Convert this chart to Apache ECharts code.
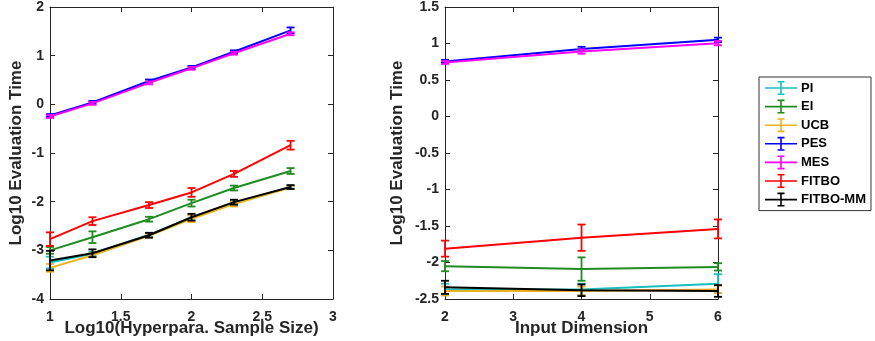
<!DOCTYPE html>
<html><head><meta charset="utf-8">
<script src="https://cdn.jsdelivr.net/npm/echarts@6/dist/echarts.min.js"></script>
<style>html,body{margin:0;padding:0;background:#fff}#c{width:875px;height:341px}</style>
</head><body><div id="c"></div>
<script>
const names = ['PI','EI','UCB','PES','MES','FITBO','FITBO-MM'];
const colors = ['#17BFBF','#1E8C1E','#EDB120','#0000FF','#FF00FF','#FF0000','#000000'];

const xLeft = [1, 1.3, 1.7, 2, 2.3, 2.7];
const leftMean = {
  'PI':       [-3.25, -3.07, -2.68, -2.33, -2.03, -1.70],
  'EI':       [-3.00, -2.73, -2.36, -2.03, -1.72, -1.37],
  'UCB':      [-3.36, -3.10, -2.70, -2.35, -2.05, -1.71],
  'PES':      [-0.23, 0.04, 0.48, 0.76, 1.08, 1.52],
  'MES':      [-0.25, 0.02, 0.44, 0.74, 1.05, 1.45],
  'FITBO':    [-2.77, -2.40, -2.07, -1.81, -1.43, -0.84],
  'FITBO-MM': [-3.21, -3.06, -2.69, -2.32, -2.01, -1.70]
};
const leftErr = {
  'PI':       [0.12, 0.04, 0.04, 0.05, 0.04, 0.03],
  'EI':       [0.07, 0.12, 0.05, 0.07, 0.05, 0.06],
  'UCB':      [0.08, 0.04, 0.04, 0.07, 0.05, 0.03],
  'PES':      [0.03, 0.03, 0.03, 0.03, 0.03, 0.06],
  'MES':      [0.03, 0.03, 0.03, 0.03, 0.03, 0.03],
  'FITBO':    [0.14, 0.08, 0.06, 0.09, 0.06, 0.09],
  'FITBO-MM': [0.20, 0.08, 0.05, 0.07, 0.05, 0.04]
};

const xRight = [2, 4, 6];
const rightMean = {
  'PI':       [-2.37, -2.37, -2.29],
  'EI':       [-2.05, -2.09, -2.06],
  'UCB':      [-2.39, -2.39, -2.37],
  'PES':      [0.755, 0.925, 1.05],
  'MES':      [0.74, 0.89, 1.005],
  'FITBO':    [-1.81, -1.66, -1.54],
  'FITBO-MM': [-2.34, -2.38, -2.39]
};
const rightErr = {
  'PI':       [0.08, 0.08, 0.13],
  'EI':       [0.07, 0.16, 0.05],
  'UCB':      [0.06, 0.06, 0.05],
  'PES':      [0.02, 0.03, 0.03],
  'MES':      [0.02, 0.03, 0.03],
  'FITBO':    [0.11, 0.18, 0.13],
  'FITBO-MM': [0.09, 0.08, 0.08]
};

const FONT = 'Liberation Sans, Arial, sans-serif';
const TXT = '#262626';
const lbl = {color: TXT, fontFamily: FONT, fontWeight: 'bold', fontSize: 14, margin: 6};
const nameStyle = {color: TXT, fontFamily: FONT, fontWeight: 'bold', fontSize: 17};

function baseAxis(extra) {
  return Object.assign({
    axisLine: {show: true, onZero: false, lineStyle: {color: TXT, width: 1}},
    axisTick: {show: true, inside: true, length: 5, lineStyle: {color: TXT}},
    splitLine: {show: false},
    nameMoveOverlap: false,
    axisLabel: Object.assign({}, lbl)
  }, extra);
}
function mirror(extra) {
  const a = baseAxis(extra);
  a.axisLabel = {show: false};
  return a;
}

const xAxes = [
  baseAxis({type: 'value', gridIndex: 0, min: 1, max: 3, interval: 0.5, position: 'bottom',
    name: 'Log10(Hyperpara. Sample Size)', nameLocation: 'middle', nameGap: 21, nameTextStyle: nameStyle,
    axisLabel: Object.assign({}, lbl, {margin: 11})}),
  mirror({type: 'value', gridIndex: 0, min: 1, max: 3, interval: 0.5, position: 'top'}),
  baseAxis({type: 'value', gridIndex: 1, min: 2, max: 6, interval: 1, position: 'bottom',
    name: 'Input Dimension', nameLocation: 'middle', nameGap: 21, nameTextStyle: nameStyle,
    axisLabel: Object.assign({}, lbl, {margin: 11})}),
  mirror({type: 'value', gridIndex: 1, min: 2, max: 6, interval: 1, position: 'top'})
];
const yAxes = [
  baseAxis({type: 'value', gridIndex: 0, min: -4, max: 2, interval: 1, position: 'left',
    name: 'Log10 Evaluation Time', nameLocation: 'middle', nameGap: 25, nameTextStyle: nameStyle}),
  mirror({type: 'value', gridIndex: 0, min: -4, max: 2, interval: 1, position: 'right'}),
  baseAxis({type: 'value', gridIndex: 1, min: -2.5, max: 1.5, interval: 0.5, position: 'left',
    name: 'Log10 Evaluation Time', nameLocation: 'middle', nameGap: 39, nameTextStyle: nameStyle}),
  mirror({type: 'value', gridIndex: 1, min: -2.5, max: 1.5, interval: 0.5, position: 'right'})
];

function errRender(color) {
  return function (params, api) {
    const x = api.value(0), lo = api.value(1), hi = api.value(2);
    const p1 = api.coord([x, lo]), p2 = api.coord([x, hi]);
    const w = 4;
    const st = {stroke: color, lineWidth: 1.8};
    return {type: 'group', children: [
      {type: 'line', shape: {x1: p1[0], y1: p1[1], x2: p2[0], y2: p2[1]}, style: st},
      {type: 'line', shape: {x1: p1[0]-w, y1: p1[1], x2: p1[0]+w, y2: p1[1]}, style: st},
      {type: 'line', shape: {x1: p2[0]-w, y1: p2[1], x2: p2[0]+w, y2: p2[1]}, style: st}
    ]};
  };
}

const series = [];
names.forEach((n, i) => {
  const c = colors[i];
  [[xLeft, leftMean, leftErr, 0, 0], [xRight, rightMean, rightErr, 2, 2]].forEach(([xs, M, E, xi, yi]) => {
    series.push({
      name: n, type: 'line', xAxisIndex: xi, yAxisIndex: yi,
      data: xs.map((x, k) => [x, M[n][k]]),
      showSymbol: false, symbol: 'none', lineStyle: {color: c, width: 2}, itemStyle: {color: c},
      animation: false, clip: false, z: 2 + i
    });
    series.push({
      name: n, type: 'custom', xAxisIndex: xi, yAxisIndex: yi,
      data: xs.map((x, k) => [x, M[n][k] - E[n][k], M[n][k] + E[n][k]]),
      renderItem: errRender(c), itemStyle: {color: c}, animation: false, z: 2 + i,
      encode: {x: 0, y: [1, 2]}
    });
  });
});

const iconPath = 'path://M0,7.2h32v1.6h-32z M15.2,1h1.6v14h-1.6z M12.5,1h7v1.6h-7z M12.5,13.4h7v1.6h-7z';

const chart = echarts.init(document.getElementById('c'), null, {renderer: 'canvas'});
chart.setOption({
  backgroundColor: '#fff',
  animation: false,
  grid: [
    {left: 50, right: 542, top: 7, bottom: 42, containLabel: false, outerBoundsMode: 'none'},
    {left: 445, right: 157, top: 7, bottom: 42, containLabel: false, outerBoundsMode: 'none'}
  ],
  xAxis: xAxes,
  yAxis: yAxes,
  legend: {
    orient: 'vertical', left: 759, top: 77, width: 113,
    data: names.map((n, i) => ({name: n, icon: iconPath, itemStyle: {color: colors[i]}})),
    itemWidth: 32, itemHeight: 14, itemGap: 4.6,
    padding: [4, 5, 4, 6],
    borderColor: '#333', borderWidth: 1,
    textStyle: {color: '#000', fontFamily: FONT, fontWeight: 'bold', fontSize: 13, lineHeight: 14, padding: [0, 0, 0, -1]},
    selectedMode: false
  },
  series: series
});
</script></body></html>
